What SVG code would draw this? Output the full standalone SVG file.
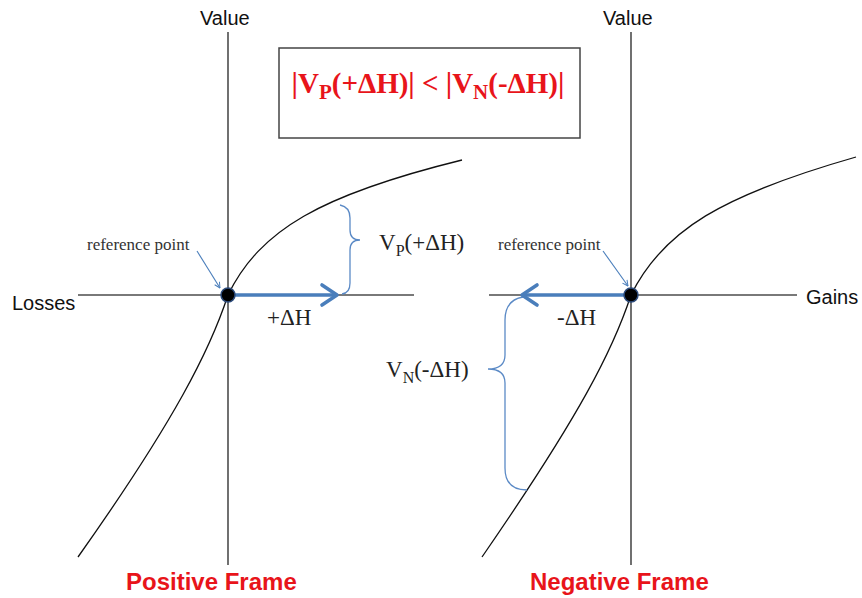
<svg xmlns="http://www.w3.org/2000/svg" width="862" height="598" viewBox="0 0 862 598">
<style>
.axis{stroke:#4d4d4d;stroke-width:1.6;fill:none}
.curve{stroke:#111;stroke-width:1.3;fill:none}
.brace{stroke:#5b8ac6;stroke-width:1.3;fill:none}
.thick{stroke:#4a7ebb;stroke-width:3.6;fill:none;stroke-linecap:round;stroke-linejoin:round}
.thin{stroke:#4a7ebb;stroke-width:1.1;fill:none}
.sans{font-family:"Liberation Sans",Arial,sans-serif;font-size:20px;fill:#111}
.serif{font-family:"Liberation Serif","Times New Roman",serif;font-size:23px;fill:#222}
.small{font-family:"Liberation Serif","Times New Roman",serif;font-size:17px;fill:#333}
.frame{font-family:"Liberation Sans",Arial,sans-serif;font-size:24px;font-weight:bold;fill:#e8141a}
.dot{fill:#000;stroke:#2c4a7a;stroke-width:1.5}
</style>
<defs>
<marker id="ah" viewBox="0 0 10 10" refX="9" refY="5" markerWidth="7" markerHeight="7" markerUnits="userSpaceOnUse" orient="auto">
<path d="M1,1 L9,5 L1,9" fill="none" stroke="#4a7ebb" stroke-width="1.4"/>
</marker>
</defs>

<g id="left-frame">
<line class="axis" x1="228" y1="32" x2="228" y2="565"/>
<line class="axis" x1="78" y1="295" x2="414" y2="295"/>
<path class="curve" d="M228,295 C260,230 320,195 462,160"/>
<path class="curve" d="M228,295 C210,350 175,420 78,557"/>
<path class="brace" d="M340,205 Q350,207 350,218 L350,230 Q350,240 360,240 Q350,240 350,250 L350,283 Q350,293 342,294"/>
<g id="arrow-plus">
<line class="thick" x1="234" y1="295" x2="336" y2="295"/>
<path class="thick" d="M322,285 L337,295 L322,305"/>
</g>
<line class="thin" x1="197" y1="251" x2="220" y2="288" marker-end="url(#ah)"/>
<circle class="dot" cx="228" cy="295" r="7"/>
<text class="sans" x="200" y="25">Value</text>
<text class="sans" x="12" y="310">Losses</text>
<text class="small" x="87" y="250">reference point</text>
<text class="serif" x="379" y="250">V<tspan dy="6" font-size="16">P</tspan><tspan dy="-6">(+ΔH)</tspan></text>
<text class="serif" x="267" y="325">+ΔH</text>
<text class="frame" x="126" y="590">Positive Frame</text>
</g>

<g id="right-frame">
<line class="axis" x1="631" y1="32" x2="631" y2="565"/>
<line class="axis" x1="489" y1="295" x2="797" y2="295"/>
<path class="curve" d="M631,295 C663,230 723,195 856,157"/>
<path class="curve" d="M631,295 C613,350 580,415 482,557"/>
<path class="brace" d="M523,297 Q505,300 505,320 L505,355 Q505,369 488,369 Q505,369 505,383 L505,468 Q505,490 527,490"/>
<g id="arrow-minus">
<line class="thick" x1="625" y1="295" x2="523" y2="295"/>
<path class="thick" d="M537,285 L522,295 L537,305"/>
</g>
<line class="thin" x1="603" y1="251" x2="628" y2="286" marker-end="url(#ah)"/>
<circle class="dot" cx="631" cy="295" r="7"/>
<text class="sans" x="603" y="25">Value</text>
<text class="sans" x="806" y="304">Gains</text>
<text class="small" x="498" y="250">reference point</text>
<text class="serif" x="386" y="377">V<tspan dy="6" font-size="16">N</tspan><tspan dy="-6">(-ΔH)</tspan></text>
<text class="serif" x="557" y="325">-ΔH</text>
<text class="frame" x="530" y="590">Negative Frame</text>
</g>

<g id="inequality-box">
<rect x="279" y="48" width="301" height="90" fill="#fff" stroke="#444" stroke-width="1.5"/>
<text x="428" y="93" text-anchor="middle" font-family="Liberation Serif,'Times New Roman',serif" font-size="29" font-weight="bold" fill="#e8141a">|V<tspan dy="6" font-size="21">P</tspan><tspan dy="-6">(+ΔH)| &lt; |V</tspan><tspan dy="6" font-size="21">N</tspan><tspan dy="-6">(-ΔH)|</tspan></text>
</g>
</svg>
